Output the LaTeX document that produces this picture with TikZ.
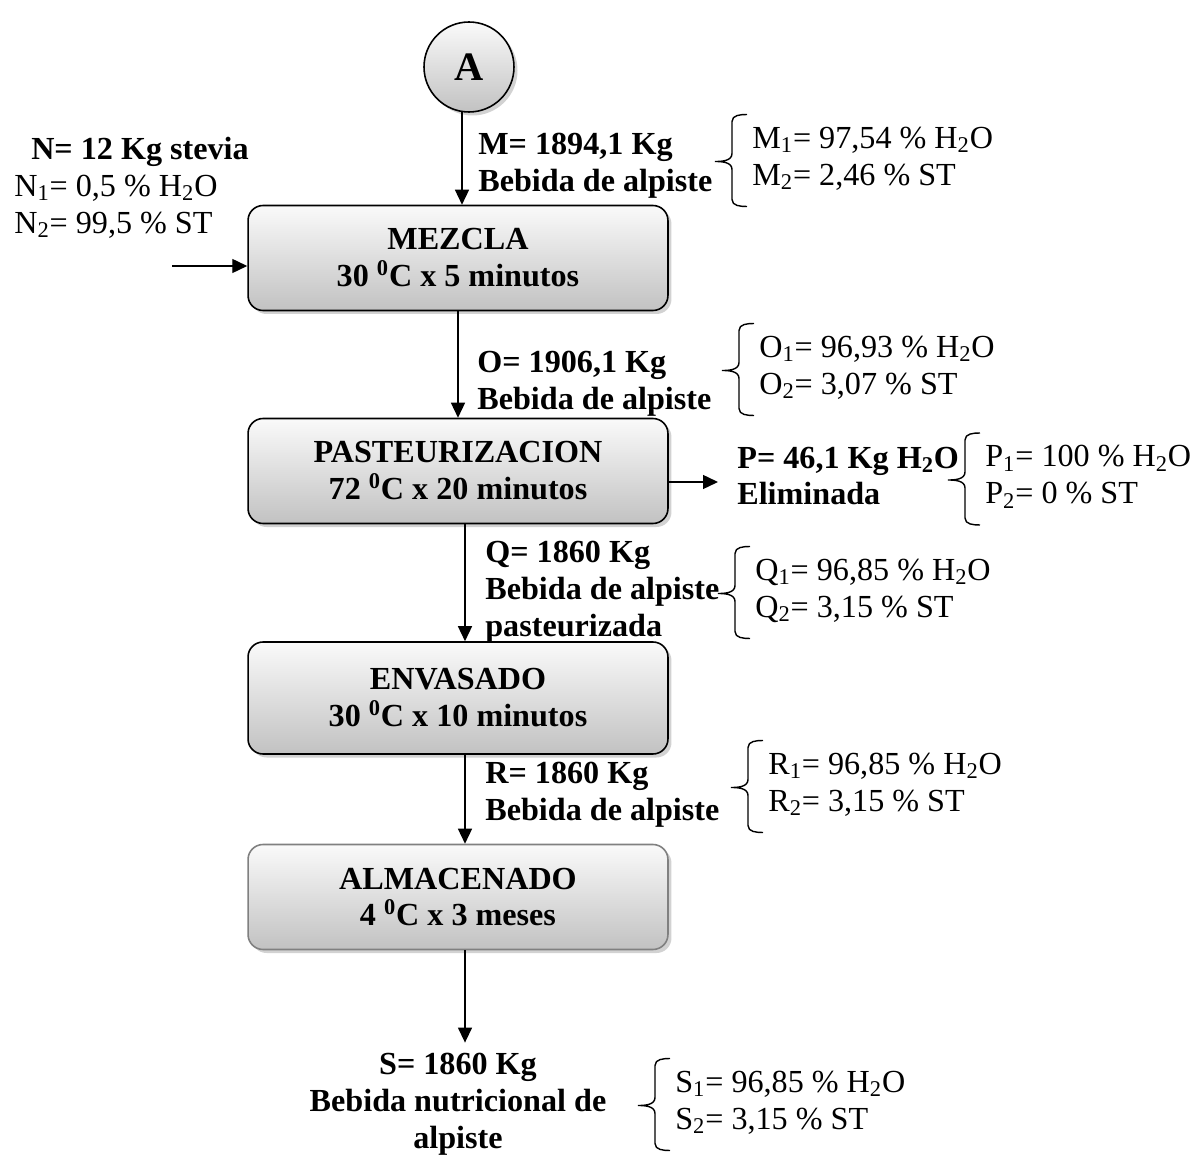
\documentclass[tikz,border=0pt]{standalone}
\usepackage{fontspec}
\setmainfont{Liberation Serif}
\usetikzlibrary{positioning,shadows,arrows.meta}

\newcommand{\tam}{\fontsize{18.3}{21}\selectfont}
% llave a la izquierda de un nodo de composicion
\newcommand{\llave}[1]{%
  \draw[line width=0.8pt] ([shift={(-5,-44)}]#1.west) to[out=180,in=90] ([shift={(-20,-37)}]#1.west)
    -- ([shift={(-20,-5)}]#1.west) to[out=-90,in=0] ([shift={(-37,3)}]#1.west)
    to[out=0,in=90] ([shift={(-20,11)}]#1.west) -- ([shift={(-20,41)}]#1.west)
    to[out=-90,in=180] ([shift={(-5,48)}]#1.west);}

\tikzset{
  proceso/.style={draw=black,line width=0.9pt,rounded corners=0.3cm,top color=gray!4,bottom color=gray!48,
    minimum width=8.4cm,minimum height=2.1cm,align=center,font=\tam\bfseries,
    drop shadow={shadow xshift=2pt,shadow yshift=-2pt,fill=gray!70}},
  inicio/.style={circle,draw=black,line width=0.9pt,top color=gray!4,bottom color=gray!48,
    minimum size=1.8cm,font=\fontsize{23}{25}\selectfont\bfseries,
    drop shadow={shadow xshift=2pt,shadow yshift=-2pt,fill=gray!70}},
  flecha/.style={-{Triangle[length=0.3cm,width=0.28cm]},line width=0.8pt},
  etiqueta/.style={font=\tam\bfseries,align=left,anchor=west,inner sep=0pt},
  compos/.style={font=\tam,align=left,anchor=west,inner sep=0pt}
}

\begin{document}
\begin{tikzpicture}[x=0.02cm,y=-0.02cm]
\useasboundingbox (0,0) rectangle (1191,1158);

% etapas del proceso
\node[inicio] (circA) at (469,67) {A};
\node[proceso] (mez) at (458,258) {MEZCLA\\30 \textsuperscript{0}C x 5 minutos};
\node[proceso] (pas) at (458,471) {PASTEURIZACION\\72 \textsuperscript{0}C x 20 minutos};
\node[proceso,minimum height=2.24cm] (env) at (458,698) {ENVASADO\\30 \textsuperscript{0}C x 10 minutos};
\node[proceso,draw=gray] (alm) at (458,897) {ALMACENADO\\4 \textsuperscript{0}C x 3 meses};

% corrientes
\node[etiqueta,anchor=center] (lblN) at (140,152) {N= 12 Kg stevia};
\node[compos] (compN) at (14,206.5) {N\textsubscript{1}= 0,5 \% H\textsubscript{2}O\\N\textsubscript{2}= 99,5 \% ST};
\node[etiqueta] (lblM) at (478,166) {M= 1894,1 Kg\\Bebida de alpiste};
\node[etiqueta] (lblO) at (477,383.5) {O= 1906,1 Kg\\Bebida de alpiste};
\node[etiqueta] (lblP) at (737,476) {P= 46,1 Kg H\textsubscript{2}O\\Eliminada};
\node[etiqueta] (lblQ) at (485,592) {Q= 1860 Kg\\Bebida de alpiste\\pasteurizada};
\node[etiqueta] (lblR) at (485,794.5) {R= 1860 Kg\\Bebida de alpiste};
\node[etiqueta,anchor=center,align=center,inner sep=6pt] (lblS) at (458,1104.5) {S= 1860 Kg\\Bebida nutricional de\\alpiste};

% composiciones
\node[compos] (compM) at (752,158.5) {M\textsubscript{1}= 97,54 \% H\textsubscript{2}O\\M\textsubscript{2}= 2,46 \% ST};
\node[compos] (compO) at (759,367.5) {O\textsubscript{1}= 96,93 \% H\textsubscript{2}O\\O\textsubscript{2}= 3,07 \% ST};
\node[compos] (compP) at (985,477) {P\textsubscript{1}= 100 \% H\textsubscript{2}O\\P\textsubscript{2}= 0 \% ST};
\node[compos] (compQ) at (755,590.5) {Q\textsubscript{1}= 96,85 \% H\textsubscript{2}O\\Q\textsubscript{2}= 3,15 \% ST};
\node[compos] (compR) at (768,784.5) {R\textsubscript{1}= 96,85 \% H\textsubscript{2}O\\R\textsubscript{2}= 3,15 \% ST};
\node[compos] (compS) at (675,1102.5) {S\textsubscript{1}= 96,85 \% H\textsubscript{2}O\\S\textsubscript{2}= 3,15 \% ST};

\llave{compM}
\llave{compO}
\llave{compP}
\llave{compQ}
\llave{compR}
\llave{compS}

% flechas
\coordinate (ent) at ([shift={(-7,-1)}]circA.south);
\coordinate (nin) at (172,266);
\coordinate (pout) at (718,482);
\coordinate (sal1) at ([shift={(7,0)}]pas.south);
\coordinate (sal2) at ([shift={(7,0)}]env.south);
\coordinate (sal3) at ([shift={(7,0)}]alm.south);
\draw[flecha] (ent) -- (ent |- mez.north);
\draw[flecha] (mez.south) -- (pas.north);
\draw[flecha] (sal1) -- (sal1 |- env.north);
\draw[flecha] (sal2) -- (sal2 |- alm.north);
\draw[flecha] (sal3) -- (sal3 |- lblS.north);
\draw[flecha] (nin) -- (nin -| mez.west);
\draw[flecha] (pout -| pas.east) -- (pout);
\end{tikzpicture}
\end{document}
